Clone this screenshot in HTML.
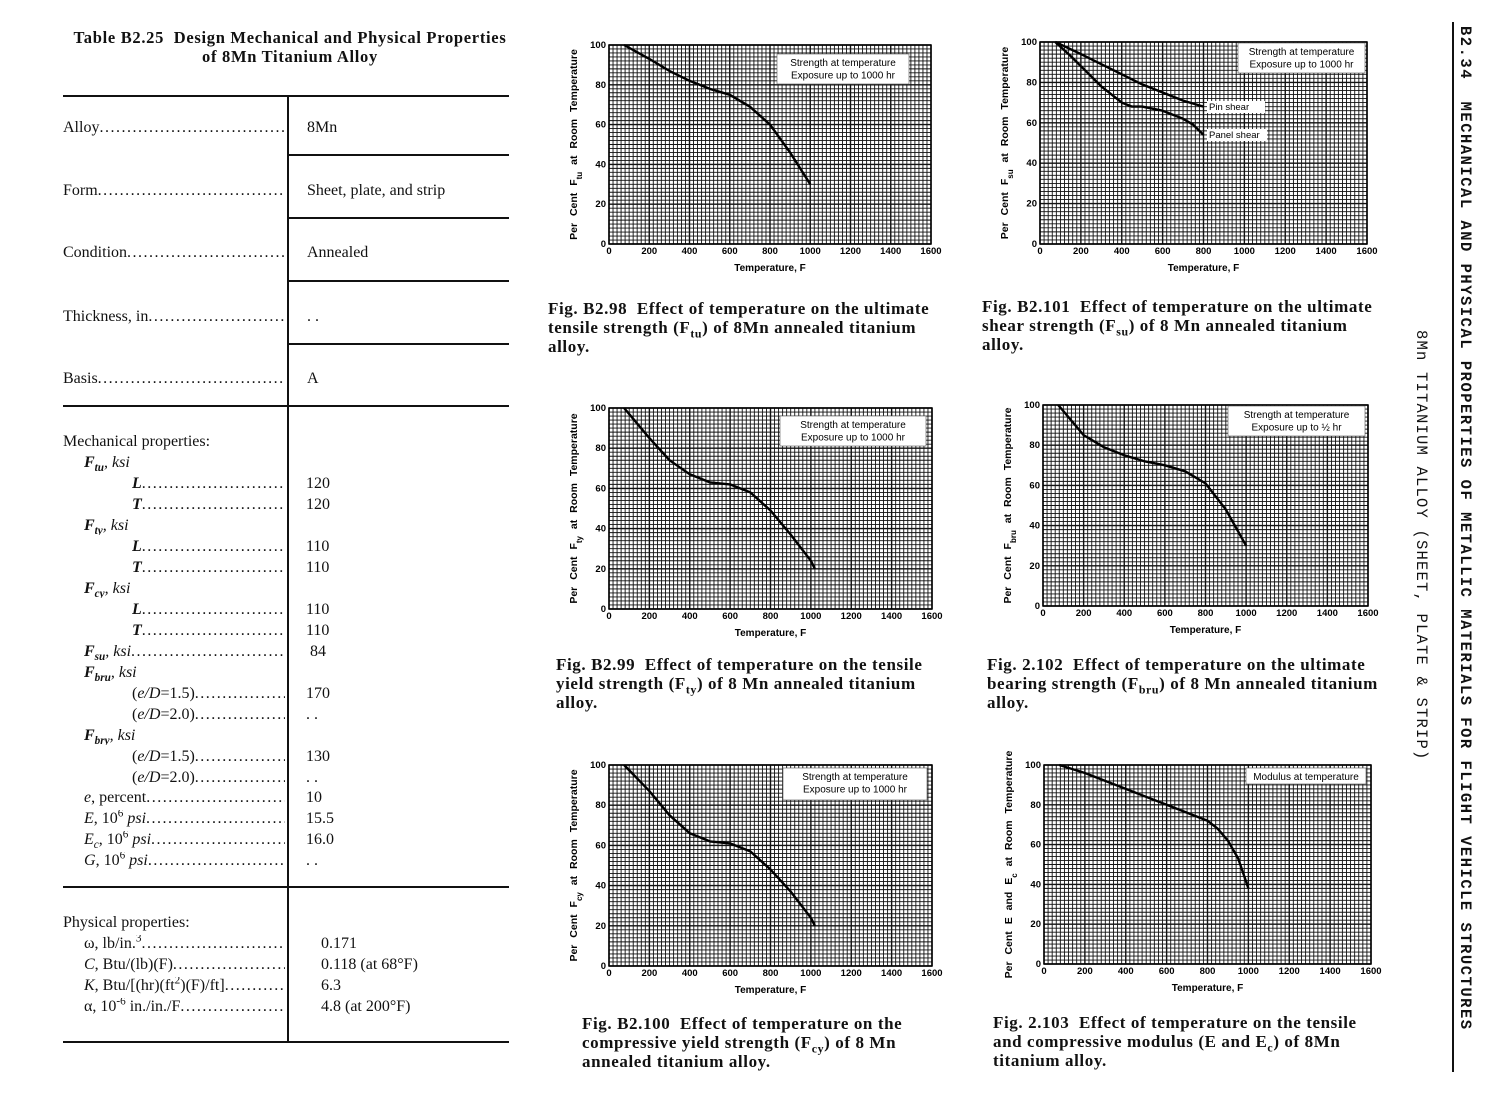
<!DOCTYPE html>
<html><head><meta charset="utf-8">
<style>
body{margin:0;background:#fff;}
#page{position:relative;width:1501px;height:1113px;overflow:hidden;background:#fff;font-family:"Liberation Serif",serif;color:#111;}
.t{position:absolute;white-space:nowrap;font-size:16px;line-height:18px;}
.rule{position:absolute;background:#111;}
.lbl{position:absolute;font-size:16px;line-height:18px;white-space:nowrap;}
.lbl sub,.lbl sup,.cap sub{line-height:0;font-size:70%;}
.lbl .d{letter-spacing:1.5px;}
.cap{position:absolute;font-size:17px;line-height:19px;white-space:nowrap;font-family:"Liberation Serif",serif;font-weight:bold;letter-spacing:0.6px;}
.rot{position:absolute;transform-origin:0 0;transform:rotate(90deg);white-space:nowrap;font-family:"Liberation Mono","Liberation Serif",serif;}
</style></head><body>
<div id="page">
<div class="t" style="left:50px;top:28px;width:480px;text-align:center;font-size:16.5px;line-height:19px;font-weight:bold;letter-spacing:0.7px;">Table B2.25&nbsp; Design Mechanical and Physical Properties<br>of 8Mn Titanium Alloy</div>

<div class="rule" style="left:63px;top:95px;width:446px;height:2px"></div>
<div class="rule" style="left:287px;top:96px;width:2px;height:946px"></div>
<div class="rule" style="left:289px;top:154px;width:220px;height:1.5px"></div>
<div class="rule" style="left:289px;top:217px;width:220px;height:1.5px"></div>
<div class="rule" style="left:289px;top:280px;width:220px;height:1.5px"></div>
<div class="rule" style="left:289px;top:343px;width:220px;height:1.5px"></div>
<div class="rule" style="left:63px;top:405px;width:446px;height:2px"></div>
<div class="rule" style="left:63px;top:886px;width:446px;height:2px"></div>
<div class="rule" style="left:63px;top:1041px;width:446px;height:2px"></div>

<div class="rot" style="left:1474px;top:26px;font-size:15.5px;font-weight:bold;letter-spacing:1.5px;">B2.34&nbsp; MECHANICAL AND PHYSICAL PROPERTIES OF METALLIC MATERIALS FOR FLIGHT VEHICLE STRUCTURES</div>
<div class="rule" style="left:1452px;top:22px;width:1.5px;height:1050px"></div>
<div class="rot" style="left:1430px;top:330px;font-size:15.5px;letter-spacing:1.2px;">8Mn TITANIUM ALLOY (SHEET, PLATE &amp; STRIP)</div>

<svg id="charts" width="1501" height="1113" style="position:absolute;left:0;top:0" xmlns="http://www.w3.org/2000/svg"></svg>

<div class="cap" style="left:548px;top:299px;">Fig. B2.98&nbsp; Effect of temperature on the ultimate<br>tensile strength (F<sub>tu</sub>) of 8Mn annealed titanium<br>alloy.</div>
<div class="cap" style="left:982px;top:297px;">Fig. B2.101&nbsp; Effect of temperature on the ultimate<br>shear strength (F<sub>su</sub>) of 8 Mn annealed titanium<br>alloy.</div>
<div class="cap" style="left:556px;top:655px;">Fig. B2.99&nbsp; Effect of temperature on the tensile<br>yield strength (F<sub>ty</sub>) of 8 Mn annealed titanium<br>alloy.</div>
<div class="cap" style="left:987px;top:655px;">Fig. 2.102&nbsp; Effect of temperature on the ultimate<br>bearing strength (F<sub>bru</sub>) of 8 Mn annealed titanium<br>alloy.</div>
<div class="cap" style="left:582px;top:1014px;">Fig. B2.100&nbsp; Effect of temperature on the<br>compressive yield strength (F<sub>cy</sub>) of 8 Mn<br>annealed titanium alloy.</div>
<div class="cap" style="left:993px;top:1013px;">Fig. 2.103&nbsp; Effect of temperature on the tensile<br>and compressive modulus (E and E<sub>c</sub>) of 8Mn<br>titanium alloy.</div>
</div>

<script>
// ---- chart data ----
const xTicks = [0,200,400,600,800,1000,1200,1400,1600];
const yTicks = [0,20,40,60,80,100];
const ftuTemp = [75,200,300,400,500,600,700,800,900,1000];
const ftuPct  = [100,93,87,82,78,75,69,60,46,30];
const pinTemp = [75,200,300,400,500,600,700,800];
const pinPct  = [100,94,89,84,79,75,71,68];
const panelTemp = [75,150,200,300,400,450,500,600,700,750,800];
const panelPct  = [100,93,88,78,70,68,68,66,62,59,54];
const ftyTemp = [75,200,300,400,500,600,700,800,900,1000,1020];
const ftyPct  = [100,85,74,67,63,62,58,49,37,24,20];
const bruTemp = [75,100,200,300,400,500,600,700,800,900,1000];
const bruPct  = [100,97,85,79,75,72,70,67,61,48,30];
const fcyTemp = [75,200,300,400,500,600,700,800,900,1000,1020];
const fcyPct  = [100,87,75,66,62,61,57,48,37,24,20];
const modTemp = [75,200,400,600,700,800,850,900,950,1000];
const modPct  = [100,96,88,80,76,72,68,62,53,38];

const NS="http://www.w3.org/2000/svg";
const svg=document.getElementById('charts');
function el(tag,attrs,parent){const e=document.createElementNS(NS,tag);for(const k in attrs)e.setAttribute(k,attrs[k]);(parent||svg).appendChild(e);return e;}

function chart(name,box,ytitle,series,legend,labels){
  const g=el('g',{});
  
  
  const X=v=>box.x+(v/1600)*box.w, Y=v=>box.y+box.h-(v/100)*box.h;
  for(let v=0;v<=1600;v+=20){
    const maj=v%200===0;
    const ln=el('line',{x1:X(v),x2:X(v),y1:box.y,y2:box.y+box.h,stroke:'#111','stroke-width':maj?1.4:0.9},g);
    
    
  }
  for(let v=0;v<=100;v+=2){
    const maj=v%20===0;
    const ln=el('line',{x1:box.x,x2:box.x+box.w,y1:Y(v),y2:Y(v),stroke:'#111','stroke-width':maj?1.4:0.9},g);
    
    
  }
  el('rect',{x:box.x,y:box.y,width:box.w,height:box.h,fill:'none',stroke:'#000','stroke-width':1.5},g);
  xTicks.forEach(t=>{const tx=el('text',{x:X(t),y:box.y+box.h+10,'font-size':9.5,'font-family':'Liberation Sans, sans-serif','font-weight':'bold','text-anchor':'middle'},g);tx.textContent=t;
    });
  yTicks.forEach(t=>{const tx=el('text',{x:box.x-3,y:Y(t)+3,'font-size':9.5,'font-family':'Liberation Sans, sans-serif','font-weight':'bold','text-anchor':'end'},g);tx.textContent=t;
    });
  const xt=el('text',{x:box.x+box.w/2,y:box.y+box.h+27,'font-size':10,'font-family':'Liberation Sans, sans-serif','font-weight':'bold','text-anchor':'middle'},g);
  xt.textContent='Temperature, F';
  
  const cy=box.y+box.h/2, cx=box.x-32;
  const yt=el('text',{x:cx,y:cy,transform:`rotate(-90 ${cx} ${cy})`,'font-size':10.5,'font-family':'Liberation Sans, sans-serif','font-weight':'bold','text-anchor':'middle','word-spacing':'4'},g);
  yt.innerHTML=ytitle;
  
  series.forEach(s=>{
    const d=s.t.map((t,i)=>(i?'L':'M')+X(t).toFixed(1)+','+Y(s.p[i]).toFixed(1)).join(' ');
    const p=el('path',{d:d,fill:'none',stroke:'#000','stroke-width':2.4,'stroke-linejoin':'round'},g);
    
  });
  if(legend){
    const lg=el('g',{},g);
    
    el('rect',{x:legend.x,y:legend.y,width:legend.w,height:legend.h,fill:'#fff',stroke:'#555','stroke-width':0.6},lg);
    legend.lines.forEach((l,i)=>{const tx=el('text',{x:legend.x+legend.w/2,y:legend.y+12+i*12.5,'font-size':10,'font-family':'Liberation Sans, sans-serif','text-anchor':'middle'},lg);tx.textContent=l;});
  }
  (labels||[]).forEach(l=>{
    el('rect',{x:l.x-2,y:l.y-9,width:l.w,height:12,fill:'#fff'},g);
    const tx=el('text',{x:l.x,y:l.y,'font-size':9.5,'font-family':'Liberation Sans, sans-serif'},g);tx.textContent=l.text;
    
  });
}
const sub=(a,b)=>`${a}<tspan baseline-shift="sub" font-size="8">${b}</tspan>`;
chart('chart-ftu',{x:609,y:45,w:322,h:199},'Per Cent  '+sub('F','tu')+'  at Room Temperature',
  [{name:'ftu-line',t:ftuTemp,p:ftuPct}],{x:777,y:54,w:132,h:30,lines:['Strength at temperature','Exposure up to 1000 hr']});
chart('chart-fsu',{x:1040,y:42,w:327,h:202},'Per Cent  '+sub('F','su')+'  at Room Temperature',
  [{name:'pin-shear-line',t:pinTemp,p:pinPct},{name:'panel-shear-line',t:panelTemp,p:panelPct}],
  {x:1238,y:43,w:127,h:30,lines:['Strength at temperature','Exposure up to 1000 hr']},
  [{x:1209,y:110,w:58,text:'Pin shear',name:'pin-shear-label'},{x:1209,y:138,w:60,text:'Panel shear',name:'panel-shear-label'}]);
chart('chart-fty',{x:609,y:408,w:323,h:201},'Per Cent  '+sub('F','ty')+'  at Room Temperature',
  [{name:'fty-line',t:ftyTemp,p:ftyPct}],{x:780,y:416,w:146,h:30,lines:['Strength at temperature','Exposure up to 1000 hr']});
chart('chart-fbru',{x:1043,y:405,w:325,h:201},'Per Cent  '+sub('F','bru')+'  at Room Temperature',
  [{name:'fbru-line',t:bruTemp,p:bruPct}],{x:1228,y:406,w:137,h:30,lines:['Strength at temperature','Exposure up to ½ hr']});
chart('chart-fcy',{x:609,y:765,w:323,h:201},'Per Cent  '+sub('F','cy')+'  at Room Temperature',
  [{name:'fcy-line',t:fcyTemp,p:fcyPct}],{x:783,y:768,w:144,h:32,lines:['Strength at temperature','Exposure up to 1000 hr']});
chart('chart-modulus',{x:1044,y:765,w:327,h:199},'Per Cent E and '+sub('E','c')+' at Room Temperature',
  [{name:'modulus-line',t:modTemp,p:modPct}],{x:1246,y:768,w:120,h:16,lines:['Modulus at temperature']});

// ---- table rows ----
const rows=[
 [129,0,'Alloy','8Mn'],[192,0,'Form','Sheet, plate, and strip'],[254,0,'Condition','Annealed'],
 [318,0,'Thickness, in','. .'],[380,0,'Basis','A'],
 [443,0,'Mechanical properties:',null,1],
 [464,1,'<i><b>F<sub>tu</sub></b>, ksi</i>',null,1],[485,2,'<i><b>L</b></i>','120'],[506,2,'<i><b>T</b></i>','120'],
 [527,1,'<i><b>F<sub>ty</sub></b>, ksi</i>',null,1],[548,2,'<i><b>L</b></i>','110'],[569,2,'<i><b>T</b></i>','110'],
 [590,1,'<i><b>F<sub>cy</sub></b>, ksi</i>',null,1],[611,2,'<i><b>L</b></i>','110'],[632,2,'<i><b>T</b></i>','110'],
 [653,1,'<i><b>F<sub>su</sub></b>, ksi</i>','&nbsp;84'],
 [674,1,'<i><b>F<sub>bru</sub></b>, ksi</i>',null,1],[695,2,'(<i>e/D</i>=1.5)','170'],[716,2,'(<i>e/D</i>=2.0)','. .'],
 [737,1,'<i><b>F<sub>bry</sub></b>, ksi</i>',null,1],[758,2,'(<i>e/D</i>=1.5)','130'],[779,2,'(<i>e/D</i>=2.0)','. .'],
 [799,1,'<i>e</i>, percent','10'],[820,1,'<i>E</i>, 10<sup>6</sup> <i>psi</i>','15.5'],[841,1,'<i>E<sub>c</sub></i>, 10<sup>6</sup> <i>psi</i>','16.0'],
 [862,1,'<i>G</i>, 10<sup>6</sup> <i>psi</i>','. .'],
 [924,0,'Physical properties:',null,1],
 [945,1,'ω, lb/in.<sup>3</sup>','0.171'],[966,1,'<i>C</i>, Btu/(lb)(F)','0.118 (at 68°F)'],
 [987,1,'<i>K</i>, Btu/[(hr)(ft<sup>2</sup>)(F)/ft]','6.3'],[1008,1,'α, 10<sup>-6</sup> in./in./F','4.8 (at 200°F)']
];
const host=document.getElementById('page');
const indent=[63,84,132];
rows.forEach(r=>{
  const [y,lvl,label,val,nodots]=r;
  const d=document.createElement('div');
  d.className='lbl';
  
  
  const left=indent[lvl];
  d.style.left=left+'px';d.style.top=(y-10)+'px';d.style.width=(285-left)+'px';d.style.overflow='hidden';
  d.innerHTML=label+(nodots?'':'<span class="d">'+'.'.repeat(60)+'</span>');
  host.appendChild(d);
  if(val!==null&&val!==undefined){
    const v=document.createElement('div');
    v.className='lbl';
    
    
    const phys=y>900;
    v.style.left=(phys?321:(y>400?306:307))+'px';v.style.top=(y-10)+'px';
    v.innerHTML=val;
    host.appendChild(v);
  }
});
</script>
</body></html>
